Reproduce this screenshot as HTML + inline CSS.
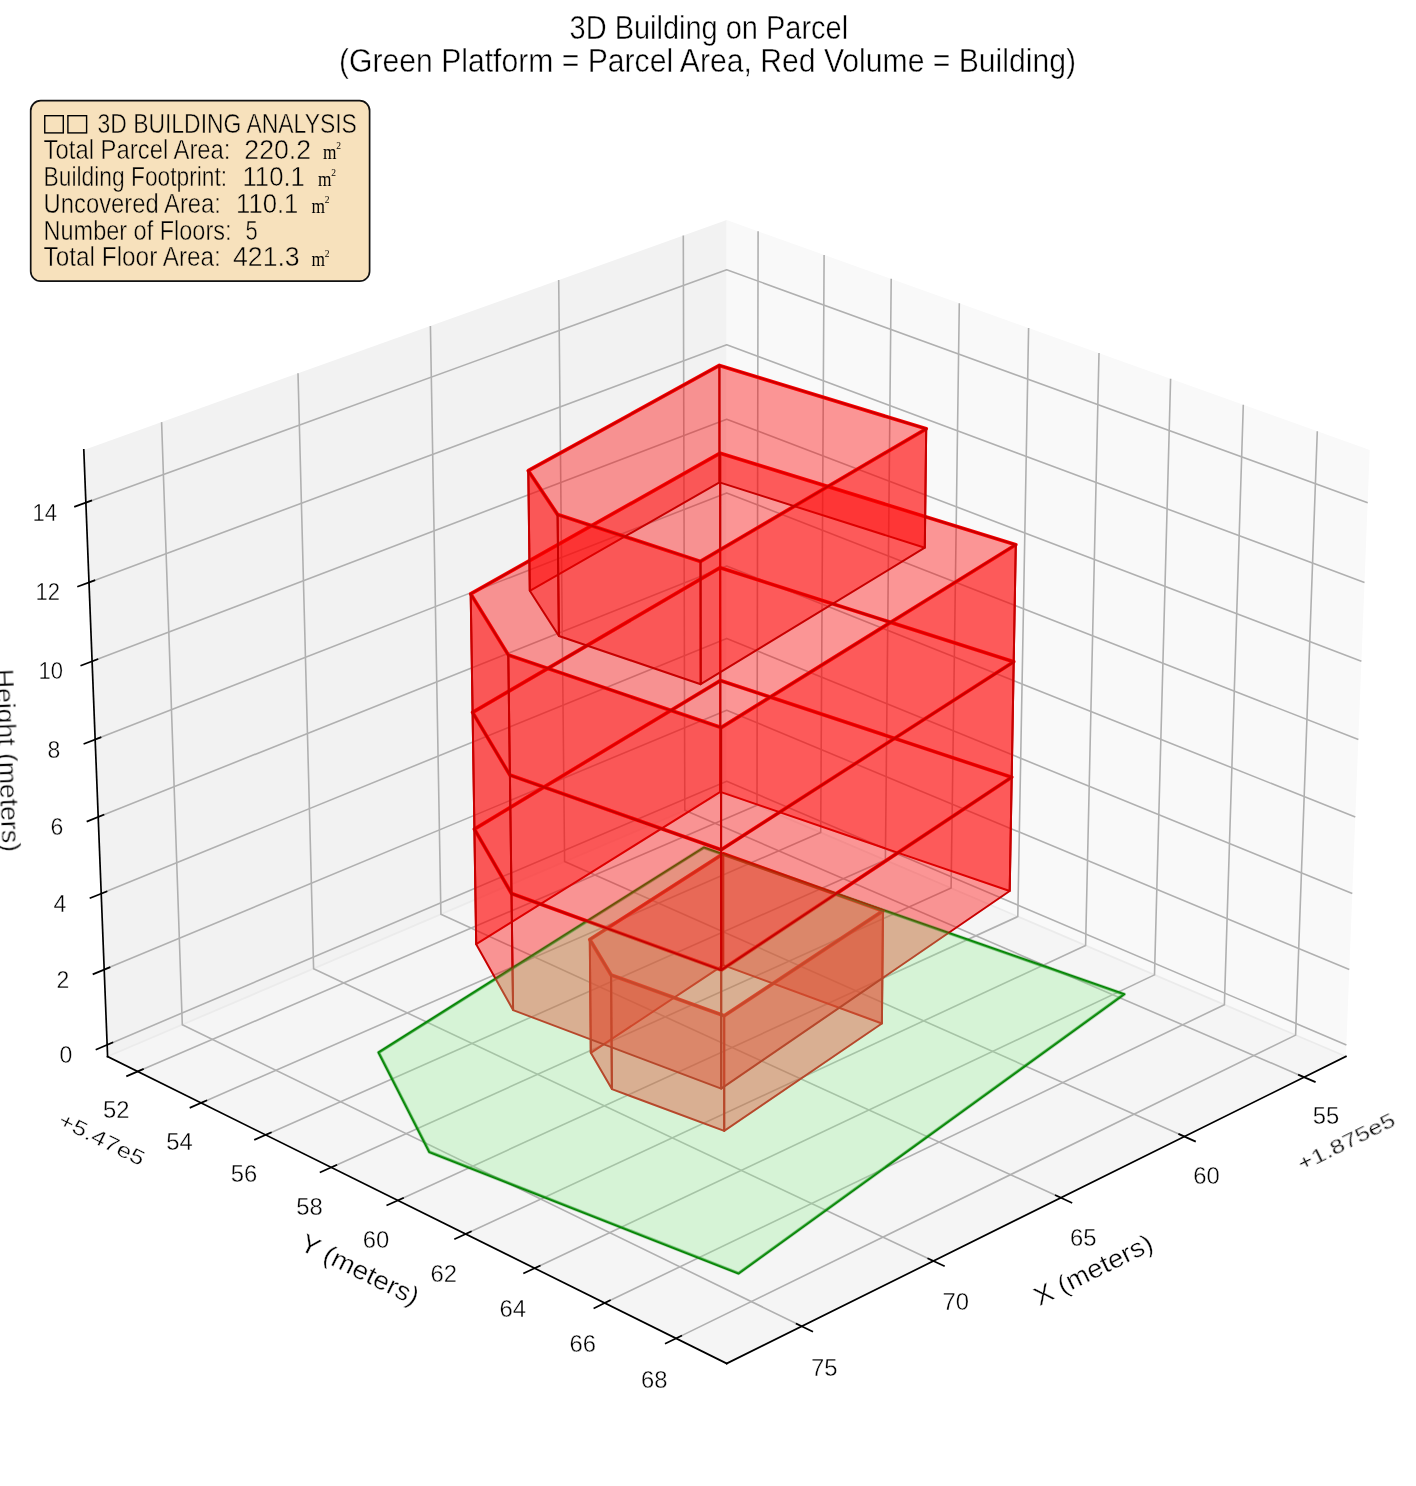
<!DOCTYPE html>
<html><head><meta charset="utf-8"><title>3D Building on Parcel</title>
<style>html,body{margin:0;padding:0;background:#fff}body{width:1416px;height:1486px;overflow:hidden}</style></head>
<body>
<svg width="1416" height="1486" viewBox="0 0 1416 1486" style="display:block;font-family:'Liberation Sans',sans-serif">
<rect width="1416" height="1486" fill="#fff"/>
<polygon points="107.6,1056.5 726.7,792.4 726.7,220.1 83.8,449.9" fill="#f2f2f2"/>
<polygon points="726.7,792.4 1345.9,1056.5 1369.7,449.9 726.7,220.1" fill="#f9f9f9"/>
<polygon points="107.6,1056.5 726.7,792.4 1345.9,1056.5 726.7,1363.5" fill="#f5f5f5"/>
<polyline points="107.6,1056.5 726.7,792.4 1345.9,1056.5" fill="none" stroke="#ebebeb" stroke-width="1.8"/>
<g stroke="#b0b0b0" stroke-width="1.6" fill="none" stroke-linejoin="round">
<polyline points="1304.2,1077.2 684.8,810.3 683.3,235.6"/>
<polyline points="1184.5,1136.6 564.6,861.5 558.7,280.1"/>
<polyline points="1061.0,1197.8 440.9,914.3 430.4,326.0"/>
<polyline points="933.5,1261.0 313.6,968.7 298.0,373.3"/>
<polyline points="801.9,1326.2 182.3,1024.7 161.6,422.1"/>
<polyline points="137.7,1071.5 757.0,805.3 758.1,231.3"/>
<polyline points="201.1,1102.9 820.7,832.5 824.1,254.9"/>
<polyline points="265.6,1134.9 885.4,860.1 891.2,278.8"/>
<polyline points="331.1,1167.4 951.1,888.1 959.3,303.2"/>
<polyline points="397.8,1200.4 1017.8,916.6 1028.6,328.0"/>
<polyline points="465.6,1234.0 1085.6,945.5 1099.0,353.1"/>
<polyline points="534.6,1268.2 1154.5,974.9 1170.6,378.7"/>
<polyline points="604.7,1303.0 1224.4,1004.7 1243.3,404.7"/>
<polyline points="676.1,1338.4 1295.6,1035.1 1317.3,431.2"/>
<polyline points="107.1,1044.9 726.7,781.3 1346.4,1044.9"/>
<polyline points="104.2,969.6 726.7,710.2 1349.3,969.6"/>
<polyline points="101.2,893.6 726.7,638.4 1352.3,893.6"/>
<polyline points="98.2,817.0 726.7,566.0 1355.3,817.0"/>
<polyline points="95.1,739.5 726.7,492.9 1358.4,739.5"/>
<polyline points="92.1,661.3 726.7,419.2 1361.4,661.3"/>
<polyline points="89.0,582.4 726.7,344.8 1364.5,582.4"/>
<polyline points="85.8,502.7 726.7,269.7 1367.7,502.7"/>
</g>
<g stroke="#000" stroke-width="1.7" fill="none" stroke-linecap="square">
<polyline points="1345.9,1056.5 726.7,1363.5"/>
<polyline points="107.6,1056.5 726.7,1363.5"/>
<polyline points="107.6,1056.5 83.8,449.9"/>
</g>
<g stroke="#000" stroke-width="1.7" stroke-linecap="butt">
<line x1="1298.1" y1="1074.6" x2="1315.6" y2="1082.1"/>
<line x1="1178.4" y1="1133.9" x2="1195.8" y2="1141.6"/>
<line x1="1055.0" y1="1195.1" x2="1072.2" y2="1203.0"/>
<line x1="927.5" y1="1258.2" x2="944.7" y2="1266.3"/>
<line x1="795.9" y1="1323.4" x2="813.0" y2="1331.7"/>
<line x1="143.7" y1="1068.9" x2="126.3" y2="1076.4"/>
<line x1="207.1" y1="1100.3" x2="189.7" y2="1107.9"/>
<line x1="271.6" y1="1132.2" x2="254.2" y2="1139.9"/>
<line x1="337.1" y1="1164.7" x2="319.8" y2="1172.5"/>
<line x1="403.8" y1="1197.7" x2="386.5" y2="1205.6"/>
<line x1="471.6" y1="1231.2" x2="454.3" y2="1239.3"/>
<line x1="540.5" y1="1265.4" x2="523.3" y2="1273.5"/>
<line x1="610.7" y1="1300.1" x2="593.6" y2="1308.4"/>
<line x1="682.0" y1="1335.5" x2="665.0" y2="1343.8"/>
<line x1="113.2" y1="1042.3" x2="95.7" y2="1049.7"/>
<line x1="110.3" y1="967.1" x2="92.7" y2="974.4"/>
<line x1="107.3" y1="891.2" x2="89.7" y2="898.3"/>
<line x1="104.3" y1="814.5" x2="86.7" y2="821.6"/>
<line x1="101.3" y1="737.1" x2="83.6" y2="744.0"/>
<line x1="98.2" y1="659.0" x2="80.5" y2="665.7"/>
<line x1="95.2" y1="580.1" x2="77.3" y2="586.7"/>
<line x1="92.0" y1="500.4" x2="74.2" y2="506.9"/>
</g>
<defs><filter id="gs" x="-5%" y="-5%" width="110%" height="110%"><feColorMatrix type="saturate" values="0"/></filter></defs>
<g fill="#000" stroke="#fff" stroke-width="0.35" filter="url(#gs)" style="will-change:transform">
<text x="1312.8" y="1124.0" font-size="23" textLength="26.5" lengthAdjust="spacingAndGlyphs">55</text>
<text x="1193.2" y="1184.0" font-size="23" textLength="26.5" lengthAdjust="spacingAndGlyphs">60</text>
<text x="1069.9" y="1245.8" font-size="23" textLength="26.5" lengthAdjust="spacingAndGlyphs">65</text>
<text x="942.5" y="1309.7" font-size="23" textLength="26.5" lengthAdjust="spacingAndGlyphs">70</text>
<text x="811.0" y="1375.6" font-size="23" textLength="26.5" lengthAdjust="spacingAndGlyphs">75</text>
<text x="102.9" y="1118.0" font-size="23" textLength="26.5" lengthAdjust="spacingAndGlyphs">52</text>
<text x="166.3" y="1149.8" font-size="23" textLength="26.5" lengthAdjust="spacingAndGlyphs">54</text>
<text x="230.7" y="1182.1" font-size="23" textLength="26.5" lengthAdjust="spacingAndGlyphs">56</text>
<text x="296.2" y="1214.9" font-size="23" textLength="26.5" lengthAdjust="spacingAndGlyphs">58</text>
<text x="362.8" y="1248.3" font-size="23" textLength="26.5" lengthAdjust="spacingAndGlyphs">60</text>
<text x="430.5" y="1282.3" font-size="23" textLength="26.5" lengthAdjust="spacingAndGlyphs">62</text>
<text x="499.4" y="1316.8" font-size="23" textLength="26.5" lengthAdjust="spacingAndGlyphs">64</text>
<text x="569.5" y="1352.0" font-size="23" textLength="26.5" lengthAdjust="spacingAndGlyphs">66</text>
<text x="640.9" y="1387.7" font-size="23" textLength="26.5" lengthAdjust="spacingAndGlyphs">68</text>
<text x="59.5" y="1062.9" font-size="23">0</text>
<text x="56.6" y="987.6" font-size="23">2</text>
<text x="53.6" y="911.7" font-size="23">4</text>
<text x="50.6" y="835.0" font-size="23">6</text>
<text x="47.5" y="757.6" font-size="23">8</text>
<text x="38.6" y="679.4" font-size="23" textLength="24.5" lengthAdjust="spacingAndGlyphs">10</text>
<text x="35.5" y="600.4" font-size="23" textLength="24.5" lengthAdjust="spacingAndGlyphs">12</text>
<text x="32.4" y="520.7" font-size="23" textLength="24.5" lengthAdjust="spacingAndGlyphs">14</text>
<text x="55.6" y="1146.4" font-size="21" textLength="93.0" lengthAdjust="spacingAndGlyphs" transform="rotate(26.3 102.1 1138.9)">+5.47e5</text>
<text x="1293.1" y="1148.5" font-size="21" textLength="105.7" lengthAdjust="spacingAndGlyphs" transform="rotate(-26.3 1345.9 1141.0)">+1.875e5</text>
<text x="295.7" y="1278.6" font-size="26" textLength="129.0" lengthAdjust="spacingAndGlyphs" transform="rotate(26.3 360.2 1269.3)">Y (meters)</text>
<text x="1028.5" y="1278.6" font-size="26" textLength="129.0" lengthAdjust="spacingAndGlyphs" transform="rotate(-26.3 1093.0 1269.3)">X (meters)</text>
<text x="-83.0" y="769.6" font-size="26" textLength="183.0" lengthAdjust="spacingAndGlyphs" transform="rotate(87.8 8.5 760.3)">Height (meters)</text>
</g>
<polygon points="378.6,1052.5 429.3,1152.0 738.6,1273.4 1124.2,994.2 703.8,847.6" fill="none" stroke="#008000" stroke-width="2.1" stroke-linejoin="round"/>
<polygon points="723.2,853.8 883.0,910.9 724.2,1015.8 611.1,975.0 589.8,939.5" fill="none" stroke="#ff0000" stroke-width="3.7" stroke-linejoin="round"/>
<polygon points="720.3,680.6 1011.7,777.2 721.2,970.1 511.5,893.5 474.4,829.1" fill="none" stroke="#ff0000" stroke-width="3.7" stroke-linejoin="round"/>
<polygon points="720.2,567.7 1013.7,661.8 721.1,849.8 509.9,775.1 472.6,712.4" fill="none" stroke="#ff0000" stroke-width="3.7" stroke-linejoin="round"/>
<polygon points="720.2,453.2 1015.8,544.7 721.1,727.6 508.3,654.9 470.7,593.9" fill="none" stroke="#ff0000" stroke-width="3.7" stroke-linejoin="round"/>
<polygon points="719.4,365.4 926.2,428.8 700.5,561.4 557.6,514.6 528.3,470.7" fill="none" stroke="#ff0000" stroke-width="3.7" stroke-linejoin="round"/>
<polygon points="723.2,965.1 881.9,1023.5 883.0,910.9 723.2,853.8" fill="#ff0000" fill-opacity="0.4" stroke="#c80000" stroke-width="2.0" stroke-linejoin="round"/>
<polygon points="590.8,1052.8 723.2,965.1 723.2,853.8 589.8,939.5" fill="#ff0000" fill-opacity="0.4" stroke="#c80000" stroke-width="2.0" stroke-linejoin="round"/>
<polygon points="611.9,1089.1 590.8,1052.8 589.8,939.5 611.1,975.0" fill="#ff0000" fill-opacity="0.4" stroke="#c80000" stroke-width="2.0" stroke-linejoin="round"/>
<polygon points="881.9,1023.5 724.2,1130.9 724.2,1015.8 883.0,910.9" fill="#ff0000" fill-opacity="0.4" stroke="#c80000" stroke-width="2.0" stroke-linejoin="round"/>
<polygon points="724.2,1130.9 611.9,1089.1 611.1,975.0 724.2,1015.8" fill="#ff0000" fill-opacity="0.4" stroke="#c80000" stroke-width="2.0" stroke-linejoin="round"/>
<polygon points="720.3,791.9 1009.7,891.0 1011.7,777.2 720.3,680.6" fill="#ff0000" fill-opacity="0.4" stroke="#c80000" stroke-width="2.0" stroke-linejoin="round"/>
<polygon points="476.2,944.2 720.3,791.9 720.3,680.6 474.4,829.1" fill="#ff0000" fill-opacity="0.4" stroke="#c80000" stroke-width="2.0" stroke-linejoin="round"/>
<polygon points="513.1,1010.1 476.2,944.2 474.4,829.1 511.5,893.5" fill="#ff0000" fill-opacity="0.4" stroke="#c80000" stroke-width="2.0" stroke-linejoin="round"/>
<polygon points="1009.7,891.0 721.2,1088.6 721.2,970.1 1011.7,777.2" fill="#ff0000" fill-opacity="0.4" stroke="#c80000" stroke-width="2.0" stroke-linejoin="round"/>
<polygon points="721.2,1088.6 513.1,1010.1 511.5,893.5 721.2,970.1" fill="#ff0000" fill-opacity="0.4" stroke="#c80000" stroke-width="2.0" stroke-linejoin="round"/>
<polygon points="378.6,1052.5 429.3,1152.0 738.6,1273.4 1124.2,994.2 703.8,847.6" fill="#90ee90" fill-opacity="0.3" stroke="#008000" stroke-opacity="0.3" stroke-width="3.6" stroke-linejoin="round"/>
<polygon points="720.3,680.6 1011.7,777.2 1013.7,661.8 720.2,567.7" fill="#ff0000" fill-opacity="0.4" stroke="#c80000" stroke-width="2.0" stroke-linejoin="round"/>
<polygon points="474.4,829.1 720.3,680.6 720.2,567.7 472.6,712.4" fill="#ff0000" fill-opacity="0.4" stroke="#c80000" stroke-width="2.0" stroke-linejoin="round"/>
<polygon points="511.5,893.5 474.4,829.1 472.6,712.4 509.9,775.1" fill="#ff0000" fill-opacity="0.4" stroke="#c80000" stroke-width="2.0" stroke-linejoin="round"/>
<polygon points="1011.7,777.2 721.2,970.1 721.1,849.8 1013.7,661.8" fill="#ff0000" fill-opacity="0.4" stroke="#c80000" stroke-width="2.0" stroke-linejoin="round"/>
<polygon points="721.2,970.1 511.5,893.5 509.9,775.1 721.1,849.8" fill="#ff0000" fill-opacity="0.4" stroke="#c80000" stroke-width="2.0" stroke-linejoin="round"/>
<polygon points="720.2,567.7 1013.7,661.8 1015.8,544.7 720.2,453.2" fill="#ff0000" fill-opacity="0.4" stroke="#c80000" stroke-width="2.0" stroke-linejoin="round"/>
<polygon points="472.6,712.4 720.2,567.7 720.2,453.2 470.7,593.9" fill="#ff0000" fill-opacity="0.4" stroke="#c80000" stroke-width="2.0" stroke-linejoin="round"/>
<polygon points="509.9,775.1 472.6,712.4 470.7,593.9 508.3,654.9" fill="#ff0000" fill-opacity="0.4" stroke="#c80000" stroke-width="2.0" stroke-linejoin="round"/>
<polygon points="1013.7,661.8 721.1,849.8 721.1,727.6 1015.8,544.7" fill="#ff0000" fill-opacity="0.4" stroke="#c80000" stroke-width="2.0" stroke-linejoin="round"/>
<polygon points="721.1,849.8 509.9,775.1 508.3,654.9 721.1,727.6" fill="#ff0000" fill-opacity="0.4" stroke="#c80000" stroke-width="2.0" stroke-linejoin="round"/>
<polygon points="719.5,482.4 924.8,547.7 926.2,428.8 719.4,365.4" fill="#ff0000" fill-opacity="0.4" stroke="#c80000" stroke-width="2.0" stroke-linejoin="round"/>
<polygon points="529.8,590.8 719.5,482.4 719.4,365.4 528.3,470.7" fill="#ff0000" fill-opacity="0.4" stroke="#c80000" stroke-width="2.0" stroke-linejoin="round"/>
<polygon points="558.9,636.0 529.8,590.8 528.3,470.7 557.6,514.6" fill="#ff0000" fill-opacity="0.4" stroke="#c80000" stroke-width="2.0" stroke-linejoin="round"/>
<polygon points="924.8,547.7 700.7,684.2 700.5,561.4 926.2,428.8" fill="#ff0000" fill-opacity="0.4" stroke="#c80000" stroke-width="2.0" stroke-linejoin="round"/>
<polygon points="700.7,684.2 558.9,636.0 557.6,514.6 700.5,561.4" fill="#ff0000" fill-opacity="0.4" stroke="#c80000" stroke-width="2.0" stroke-linejoin="round"/>
<g fill="#000" stroke="#fff" stroke-width="0.45" filter="url(#gs)" style="will-change:transform">
<text x="569.6" y="38.9" font-size="33.5" textLength="278.5" lengthAdjust="spacingAndGlyphs">3D Building on Parcel</text>
<text x="339" y="72.4" font-size="33.5" textLength="737" lengthAdjust="spacingAndGlyphs">(Green Platform = Parcel Area, Red Volume = Building)</text>
</g>
<rect x="30.7" y="100.7" width="338.9" height="180.5" rx="10" ry="10" fill="#f7e1bc" stroke="#111" stroke-width="1.7"/>
<g fill="#000" font-size="27.3" stroke="#f7e1bc" stroke-width="0.45" style="will-change:transform">
<rect x="44.75" y="115.7" width="18.55" height="17.2" fill="none" stroke="#000" stroke-width="1.4"/>
<rect x="67.9" y="115.7" width="18.7" height="17.2" fill="none" stroke="#000" stroke-width="1.4"/>
<text x="97.5" y="132.5" textLength="259.4" lengthAdjust="spacingAndGlyphs">3D BUILDING ANALYSIS</text>
<text x="43.6" y="158.6" textLength="186.9" lengthAdjust="spacingAndGlyphs">Total Parcel Area:</text>
<text x="244.3" y="158.6" textLength="66.8" lengthAdjust="spacingAndGlyphs">220.2</text>
<text x="323.1" y="158.6" font-family="'Liberation Serif',serif" font-size="22" stroke="none" textLength="13.5" lengthAdjust="spacingAndGlyphs">m</text><text x="336.3" y="149.0" font-family="'Liberation Serif',serif" font-size="9.5" stroke="none">2</text>
<text x="43.6" y="185.9" textLength="183.6" lengthAdjust="spacingAndGlyphs">Building Footprint:</text>
<text x="242.5" y="185.9" textLength="62.3" lengthAdjust="spacingAndGlyphs">110.1</text>
<text x="318.0" y="185.9" font-family="'Liberation Serif',serif" font-size="22" stroke="none" textLength="13.5" lengthAdjust="spacingAndGlyphs">m</text><text x="331.2" y="176.3" font-family="'Liberation Serif',serif" font-size="9.5" stroke="none">2</text>
<text x="43.6" y="212.8" textLength="177.3" lengthAdjust="spacingAndGlyphs">Uncovered Area:</text>
<text x="236.1" y="212.8" textLength="62.3" lengthAdjust="spacingAndGlyphs">110.1</text>
<text x="311.6" y="212.8" font-family="'Liberation Serif',serif" font-size="22" stroke="none" textLength="13.5" lengthAdjust="spacingAndGlyphs">m</text><text x="324.8" y="203.2" font-family="'Liberation Serif',serif" font-size="9.5" stroke="none">2</text>
<text x="43.6" y="239.5" textLength="187.9" lengthAdjust="spacingAndGlyphs">Number of Floors:</text>
<text x="245.5" y="239.5" textLength="12.2" lengthAdjust="spacingAndGlyphs">5</text>
<text x="43.6" y="266.2" textLength="177.3" lengthAdjust="spacingAndGlyphs">Total Floor Area:</text>
<text x="233.0" y="266.2" textLength="66.7" lengthAdjust="spacingAndGlyphs">421.3</text>
<text x="311.6" y="266.2" font-family="'Liberation Serif',serif" font-size="22" stroke="none" textLength="13.5" lengthAdjust="spacingAndGlyphs">m</text><text x="324.8" y="256.6" font-family="'Liberation Serif',serif" font-size="9.5" stroke="none">2</text>
</g>
</svg>
</body></html>
